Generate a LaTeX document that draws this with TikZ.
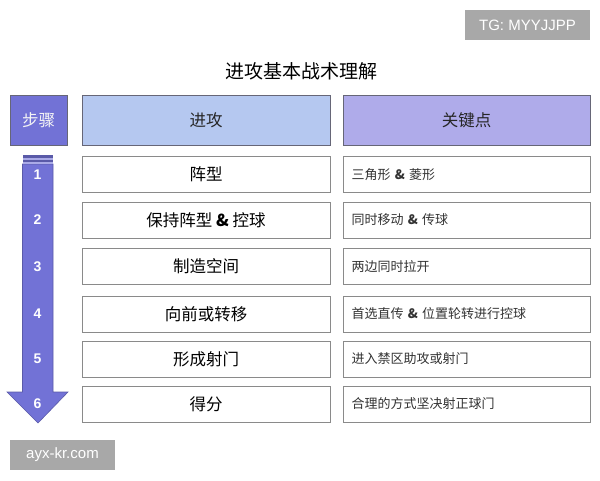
\documentclass[tikz,border=0pt]{standalone}
\usepackage{fontspec}
\setmainfont{Liberation Sans}
\newfontfamily\cjk{Noto Sans CJK SC}
\usepackage{tikz}
\definecolor{stepblue}{HTML}{7272D6}
\definecolor{stepedge}{HTML}{5A5AA8}
\definecolor{headblue}{HTML}{B5C8F0}
\definecolor{headlav}{HTML}{AFABEA}
\definecolor{headedge}{HTML}{666677}
\definecolor{boxedge}{HTML}{8A8A8A}
\definecolor{markgray}{HTML}{A8A8A8}
\tikzstyle{head}=[draw=headedge, line width=1pt, minimum height=50pt, inner sep=0pt, font=\cjk\fontsize{16.5}{18}\selectfont, text=black!85]
\tikzstyle{act}=[draw=boxedge, line width=1pt, fill=white, minimum width=248pt, minimum height=36pt, inner sep=0pt, font=\cjk\fontsize{16.5}{18}\selectfont]
\tikzstyle{key}=[draw=boxedge, line width=1pt, fill=white, minimum width=247pt, minimum height=36pt, inner sep=0pt, text width=230pt, align=left, font=\cjk\fontsize{13}{15}\selectfont, text=black!80]
\tikzstyle{num}=[text=white, font=\bfseries\fontsize{14}{16}\selectfont]
\tikzstyle{wmark}=[fill=markgray, text=white, inner sep=0pt, font=\fontsize{15}{18}\selectfont]

\begin{document}
\begin{tikzpicture}[x=1pt, y=-1pt]
\useasboundingbox (0,0) rectangle (600,480);
\node[wmark, minimum width=125pt, minimum height=30pt] (tg) at (527.5,25) {TG: MYYJJPP};
\node[font=\cjk\fontsize{19}{21}\selectfont] (title) at (301,71) {进攻基本战术理解};

% header row
\node[head, fill=stepblue, minimum width=57pt, text=white!92!gray] (steps) at (38.5,120) {步骤};
\node[head, fill=headblue, minimum width=248pt] (attack) at (206,120) {进攻};
\node[head, fill=headlav, minimum width=247pt] (keys) at (466.5,120) {关键点};

% arrow
\draw[fill=stepblue, draw=stepedge, line width=0.6pt] (22.5,164) -- (53,164) -- (53,392) -- (68,392)
  -- (38,423) -- (7,392) -- (22.5,392) -- cycle;
\fill[stepedge] (22.5,155) rectangle (53,157.5);
\fill[stepedge] (22.5,160) rectangle (53,162);
\fill[stepblue!60] (22.5,157.5) rectangle (53,160);
\fill[stepblue!60] (22.5,162) rectangle (53,164);

% rows
\node[act] (a1) at (206,174.5) {阵型};
\node[act] (a2) at (206,220) {保持阵型 \textbf{\&} 控球};
\node[act] (a3) at (206,266.5) {制造空间};
\node[act] (a4) at (206,314) {向前或转移};
\node[act] (a5) at (206,359) {形成射门};
\node[act] (a6) at (206,404) {得分};

\node[key] (k1) at (466.5,174.5) {三角形 \textbf{\&} 菱形};
\node[key] (k2) at (466.5,220) {同时移动 \textbf{\&} 传球};
\node[key] (k3) at (466.5,266.5) {两边同时拉开};
\node[key] (k4) at (466.5,314) {首选直传 \textbf{\&} 位置轮转进行控球};
\node[key] (k5) at (466.5,359) {进入禁区助攻或射门};
\node[key] (k6) at (466.5,404) {合理的方式坚决射正球门};

\node[num] (n1) at (37.5,174.5) {1};
\node[num] (n2) at (37.5,220) {2};
\node[num] (n3) at (37.5,266.5) {3};
\node[num] (n4) at (37.5,314) {4};
\node[num] (n5) at (37.5,359) {5};
\node[num] (n6) at (37.5,404) {6};

\node[wmark, minimum width=105pt, minimum height=30pt] (site) at (62.5,455) {ayx-kr.com};
\end{tikzpicture}
\end{document}
